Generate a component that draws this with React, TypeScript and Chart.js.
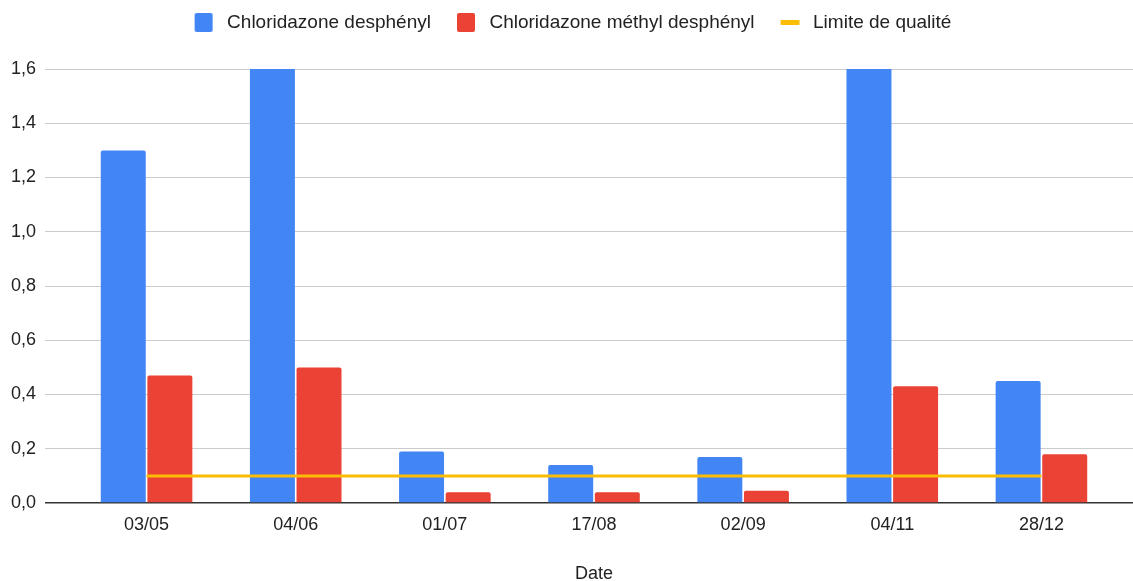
import React, { useEffect, useRef } from 'react';
import { Chart, registerables } from 'chart.js';

Chart.register(...registerables);

// ---- data ----
const categories = ['03/05', '04/06', '01/07', '17/08', '02/09', '04/11', '28/12'];
const seriesNames = ['Chloridazone desphényl', 'Chloridazone méthyl desphényl', 'Limite de qualité'];
// values above 1,6 are clipped at the top of the axis in the reference
const chloridazoneDesphenyl = [1.3, 1.7, 0.19, 0.14, 0.17, 1.7, 0.45];
const chloridazoneMethylDesphenyl = [0.47, 0.5, 0.04, 0.04, 0.045, 0.43, 0.18];
const limiteQualite = [0.1, 0.1, 0.1, 0.1, 0.1, 0.1, 0.1];
const yMin = 0;
const yMax = 1.6;
const yStep = 0.2;
const xTitle = 'Date';

const BLUE = '#4285F4';
const RED = '#EA4335';
const YELLOW = '#FBBC04';
const TEXT = '#222222';
const GRID = '#cccccc';
const BASE = '#333333';
const FAMILY = "'Liberation Sans', Arial, sans-serif";

function swatch(color: string, bw: number, bh: number, r: number) {
  const c = document.createElement('canvas');
  c.width = 36;
  c.height = 19;
  const ctx = c.getContext('2d')!;
  ctx.fillStyle = color;
  ctx.beginPath();
  (ctx as any).roundRect(13, (19 - bh) / 2, bw, bh, r);
  ctx.fill();
  return c;
}

export default function App() {
  const ref = useRef<HTMLCanvasElement | null>(null);

  useEffect(() => {
    if (!ref.current) return;
    const swatches = [swatch(BLUE, 18, 19, 2), swatch(RED, 18, 19, 2), swatch(YELLOW, 19, 5, 1)];

    const legendHeight = {
      id: 'legendHeight',
      beforeLayout(chart: any) {
        const lg = chart.legend;
        if (lg && !lg.__fixed) {
          const orig = lg.fit;
          lg.fit = function () {
            orig.call(this);
            this.height = 69;
          };
          lg.__fixed = true;
        }
      },
    };

    const gridColor = (ctx: any) => (ctx.tick && ctx.tick.value === 0 ? BASE : GRID);
    const gridWidth = (ctx: any) => (ctx.tick && ctx.tick.value === 0 ? 1.5 : 1);
    const font = { family: FAMILY, size: 18 };

    const chart = new Chart(ref.current, {
      type: 'bar',
      data: {
        labels: categories,
        datasets: [
          {
            type: 'bar',
            label: seriesNames[0],
            data: chloridazoneDesphenyl,
            backgroundColor: BLUE,
            borderRadius: { topLeft: 2, topRight: 2, bottomLeft: 0, bottomRight: 0 },
            borderSkipped: 'start',
            categoryPercentage: 0.625,
            barPercentage: 0.965,
            clip: 0,
            order: 1,
          },
          {
            type: 'bar',
            label: seriesNames[1],
            data: chloridazoneMethylDesphenyl,
            backgroundColor: RED,
            borderRadius: { topLeft: 2, topRight: 2, bottomLeft: 0, bottomRight: 0 },
            borderSkipped: 'start',
            categoryPercentage: 0.625,
            barPercentage: 0.965,
            clip: 0,
            order: 1,
          },
          {
            type: 'line',
            label: seriesNames[2],
            data: limiteQualite,
            borderColor: YELLOW,
            backgroundColor: YELLOW,
            borderWidth: 3,
            pointRadius: 0,
            pointHoverRadius: 0,
            fill: false,
            order: 0,
          },
        ],
      } as any,
      options: {
        responsive: false,
        animation: false,
        devicePixelRatio: 1,
        layout: { padding: 0 },
        plugins: {
          tooltip: { enabled: false },
          legend: {
            position: 'top',
            align: 'center',
            labels: {
              usePointStyle: true,
              pointStyleWidth: 36,
              padding: 13,
              color: TEXT,
              font: { family: FAMILY, size: 19 },
              generateLabels: (c: any) => {
                const items = (Chart.defaults.plugins.legend.labels as any).generateLabels(c);
                items.sort((a: any, b: any) => a.datasetIndex - b.datasetIndex);
                items.forEach((it: any) => {
                  it.pointStyle = swatches[it.datasetIndex];
                });
                return items;
              },
            },
          },
        },
        scales: {
          x: {
            grid: { display: false },
            border: { display: false },
            ticks: { color: TEXT, font, padding: 3, autoSkip: false, maxRotation: 0 },
            title: { display: true, text: xTitle, color: TEXT, font: { family: FAMILY, size: 18, lineHeight: 0.8 }, padding: 0 },
            afterFit: (s: any) => {
              s.height = 78;
            },
          },
          y: {
            min: yMin,
            max: yMax,
            ticks: {
              stepSize: yStep,
              padding: 9,
              color: TEXT,
              font,
              callback: (v: any) => Number(v).toFixed(1).replace('.', ','),
            },
            grid: { color: gridColor, lineWidth: gridWidth, drawTicks: true, tickLength: 27 },
            border: { display: false },
            afterFit: (s: any) => {
              s.width = 72;
            },
          },
          y2: {
            position: 'right',
            min: yMin,
            max: yMax,
            ticks: { stepSize: yStep, display: false },
            grid: { color: gridColor, lineWidth: gridWidth, drawOnChartArea: false, drawTicks: true, tickLength: 17 },
            border: { display: false },
            afterFit: (s: any) => {
              s.width = 17;
            },
          },
        },
      } as any,
      plugins: [legendHeight],
    });

    return () => chart.destroy();
  }, []);

  return (
    <div style={{ position: 'absolute', left: 0, top: 0, width: 1133, height: 581, background: '#fff' }}>
      <canvas ref={ref} width={1133} height={581} style={{ display: 'block' }} />
    </div>
  );
}
